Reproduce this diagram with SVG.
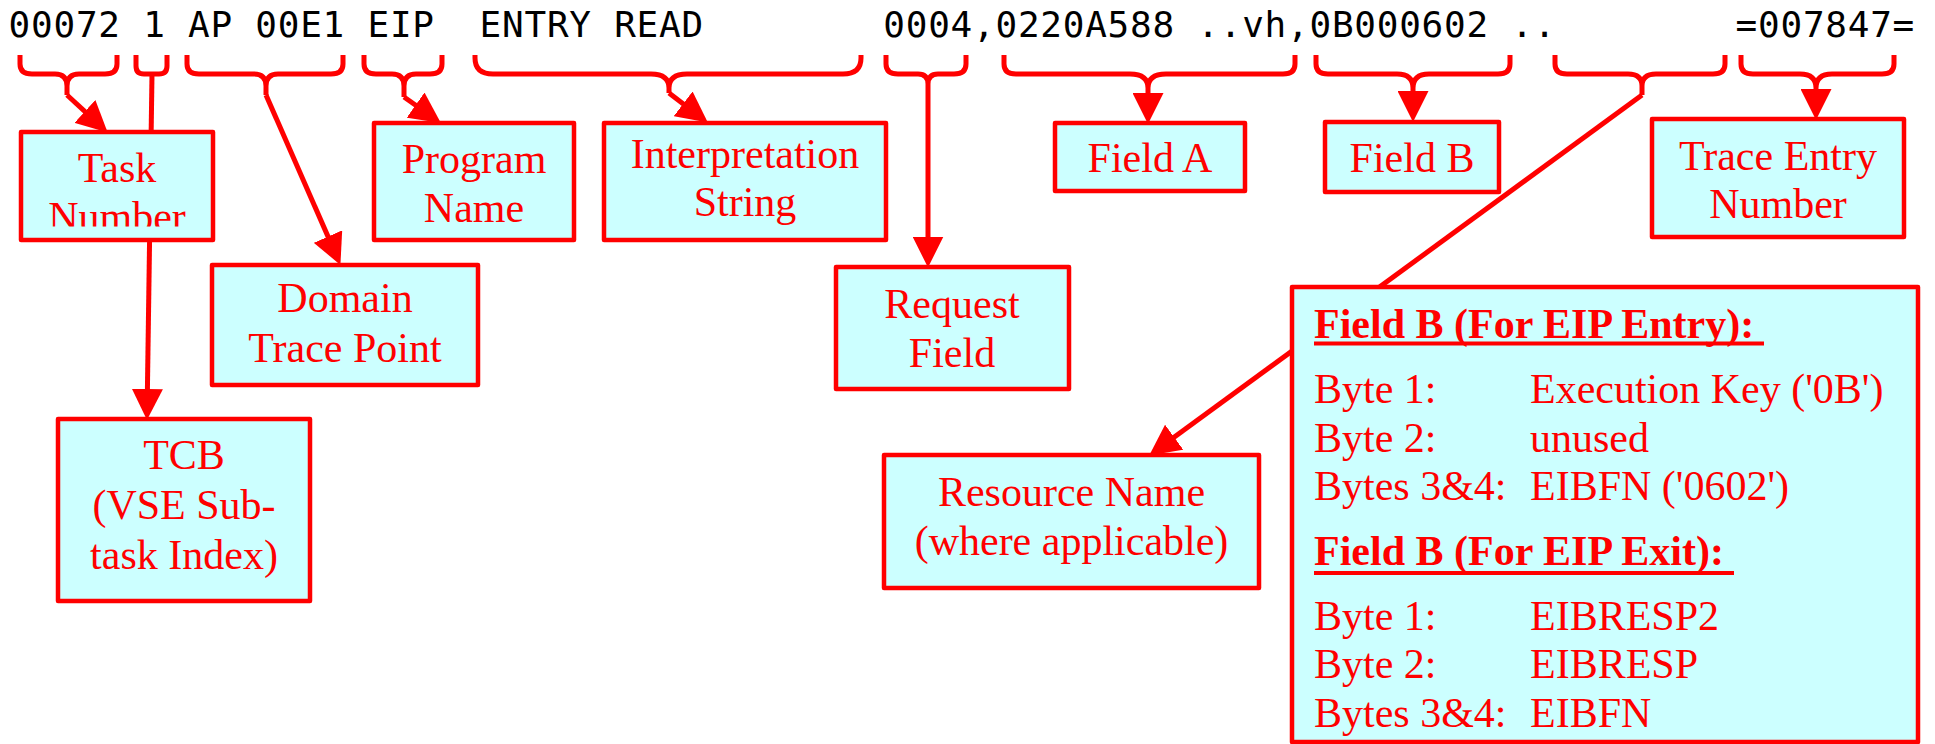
<svg xmlns="http://www.w3.org/2000/svg" width="1935" height="744" viewBox="0 0 1935 744">
<style>
.box{fill:#CCFFFF;stroke:#FF0000;stroke-width:4.5;stroke-linejoin:round}
.lbl{font-family:"Liberation Serif","Times New Roman",serif;font-size:42px;fill:#FF0000;text-anchor:middle}
.det{font-family:"Liberation Serif","Times New Roman",serif;font-size:42px;fill:#FF0000}
.hd{font-weight:bold}
.brace{fill:none;stroke:#FF0000;stroke-width:5;stroke-linejoin:round}
.arrow{fill:none;stroke:#FF0000;stroke-width:5;marker-end:url(#ah)}
.ul{stroke:#FF0000;stroke-width:4}
.mono{font-family:"DejaVu Sans Mono","Liberation Mono",monospace;font-size:36px;fill:#000}
</style>
<defs>
<marker id="ah" viewBox="0 0 31 31" markerWidth="31" markerHeight="31" refX="15" refY="15.5" orient="auto" markerUnits="userSpaceOnUse"><path d="M0,0 L31,15.5 L0,31 Z" fill="#FF0000"/></marker>
<clipPath id="taskclip"><rect x="21" y="132" width="192" height="94.5"/></clipPath>
</defs>
<rect width="1935" height="744" fill="#FFFFFF"/>
<text id="trace-line" class="mono" x="8.6" y="37.3" xml:space="preserve" textLength="1905.7" lengthAdjust="spacing">00072 1 AP 00E1 EIP  ENTRY READ        0004,0220A588 ..vh,0B000602 ..        =007847=</text>
<g id="connectors">
<g id="braces">
<path class="brace" d="M20,55 L20,64 Q20,74 32,74 L55,74 Q67,74 67,86 L67,95 M117,55 L117,64 Q117,74 105,74 L79,74 Q67,74 67,86"/>
<path class="brace" d="M136,55 L136,66 Q136,74 144,74 L159,74 Q167,74 167,66 L167,55"/>
<path class="brace" d="M187,55 L187,64 Q187,74 199,74 L254,74 Q266,74 266,86 L266,95 M343,55 L343,64 Q343,74 331,74 L278,74 Q266,74 266,86"/>
<path class="brace" d="M364,55 L364,64 Q364,74 376,74 L392,74 Q404,74 404,86 L404,97 M442,55 L442,64 Q442,74 430,74 L416,74 Q404,74 404,86"/>
<path class="brace" d="M475,55 L475,58 Q475,74 493,74 L651,74 Q669,74 669,88 L669,93 M861,55 L861,58 Q861,74 843,74 L687,74 Q669,74 669,88"/>
<path class="brace" d="M886,55 L886,64 Q886,74 898,74 L918,74 Q928,74 928,84 M966,55 L966,64 Q966,74 954,74 L938,74 Q928,74 928,84"/>
<path class="brace" d="M1004,55 L1004,64 Q1004,74 1016,74 L1130,74 Q1148,74 1148,88 M1295,55 L1295,64 Q1295,74 1283,74 L1166,74 Q1148,74 1148,88"/>
<path class="brace" d="M1316,55 L1316,64 Q1316,74 1328,74 L1397,74 Q1413,74 1413,88 M1510,55 L1510,64 Q1510,74 1498,74 L1429,74 Q1413,74 1413,88"/>
<path class="brace" d="M1555,55 L1555,64 Q1555,74 1567,74 L1628,74 Q1642,74 1642,86 L1642,95 M1725,55 L1725,64 Q1725,74 1713,74 L1656,74 Q1642,74 1642,86"/>
<path class="brace" d="M1741,55 L1741,64 Q1741,74 1753,74 L1800,74 Q1816,74 1816,88 M1894,55 L1894,64 Q1894,74 1882,74 L1832,74 Q1816,74 1816,88"/>
</g>
<path class="arrow" d="M67,95 L95.9,121.6"/>
<path class="arrow" d="M152,74 L147.2,404"/>
<path class="arrow" d="M266,95 L334,250.3"/>
<path class="arrow" d="M404,97 L427.8,113.8"/>
<path class="arrow" d="M669,93 L695.1,112.9"/>
<path class="arrow" d="M928,84 L928,251.5"/>
<path class="arrow" d="M1148,88 L1148,108"/>
<path class="arrow" d="M1413,88 L1413,106"/>
<path class="arrow" d="M1642,95 L1162.1,446.1"/>
<path class="arrow" d="M1816,88 L1816,104"/>
</g>
<g id="task-number">
<rect class="box" x="21" y="132" width="192" height="108"/>
<text class="lbl" x="117" y="181.7">Task</text>
<text class="lbl" x="117" y="230.5" clip-path="url(#taskclip)">Number</text>
</g>
<g id="program-name">
<rect class="box" x="374" y="123" width="200" height="117"/>
<text class="lbl" x="474" y="173">Program</text>
<text class="lbl" x="474" y="221.7">Name</text>
</g>
<g id="interpretation-string">
<rect class="box" x="604" y="123" width="282" height="117"/>
<text class="lbl" x="745" y="168.3">Interpretation</text>
<text class="lbl" x="745" y="216">String</text>
</g>
<g id="domain-trace-point">
<rect class="box" x="212" y="265" width="266" height="120"/>
<text class="lbl" x="345" y="311.7">Domain</text>
<text class="lbl" x="345" y="361.7">Trace Point</text>
</g>
<g id="request-field">
<rect class="box" x="836" y="267" width="233" height="122"/>
<text class="lbl" x="952" y="318">Request</text>
<text class="lbl" x="952" y="366.7">Field</text>
</g>
<g id="tcb">
<rect class="box" x="58" y="419" width="252" height="182"/>
<text class="lbl" x="184" y="469.3">TCB</text>
<text class="lbl" x="184" y="518.5">(VSE Sub-</text>
<text class="lbl" x="184" y="569">task Index)</text>
</g>
<g id="field-a">
<rect class="box" x="1055" y="123" width="190" height="68"/>
<text class="lbl" x="1150" y="172">Field A</text>
</g>
<g id="field-b">
<rect class="box" x="1325" y="122" width="174" height="70"/>
<text class="lbl" x="1412" y="171.7">Field B</text>
</g>
<g id="trace-entry-number">
<rect class="box" x="1652" y="119" width="252" height="118"/>
<text class="lbl" x="1778" y="170">Trace Entry</text>
<text class="lbl" x="1778" y="218.3">Number</text>
</g>
<g id="resource-name">
<rect class="box" x="884" y="455" width="375" height="133"/>
<text class="lbl" x="1071.5" y="506">Resource Name</text>
<text class="lbl" x="1071.5" y="555">(where applicable)</text>
</g>
<g id="field-b-detail">
<rect class="box" x="1292" y="287" width="626" height="455"/>
<text class="det hd" x="1314" y="337.7">Field B (For EIP Entry):</text>
<line class="ul" x1="1314" y1="343.5" x2="1764" y2="343.5"/>
<text class="det" x="1314" y="402.7">Byte 1:</text>
<text class="det" x="1530" y="402.7">Execution Key ('0B')</text>
<text class="det" x="1314" y="451.5">Byte 2:</text>
<text class="det" x="1530" y="451.5">unused</text>
<text class="det" x="1314" y="499.5">Bytes 3&amp;4:</text>
<text class="det" x="1530" y="499.5">EIBFN ('0602')</text>
<text class="det hd" x="1314" y="565">Field B (For EIP Exit):</text>
<line class="ul" x1="1314" y1="573" x2="1734" y2="573"/>
<text class="det" x="1314" y="630">Byte 1:</text>
<text class="det" x="1530" y="630">EIBRESP2</text>
<text class="det" x="1314" y="678.3">Byte 2:</text>
<text class="det" x="1530" y="678.3">EIBRESP</text>
<text class="det" x="1314" y="726.7">Bytes 3&amp;4:</text>
<text class="det" x="1530" y="726.7">EIBFN</text>
</g>
</svg>
